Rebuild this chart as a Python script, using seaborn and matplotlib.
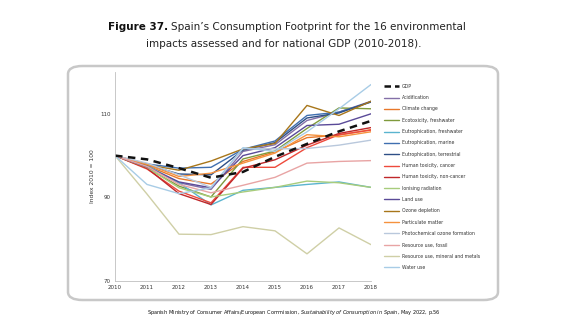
import matplotlib
matplotlib.use("Agg")
import matplotlib.pyplot as plt
from matplotlib.patches import FancyBboxPatch
from matplotlib.lines import Line2D
import seaborn as sns
import pandas as pd

sns.set_theme(style="white")
plt.rcParams['font.family'] = ['DejaVu Sans']

years = [2010, 2011, 2012, 2013, 2014, 2015, 2016, 2017, 2018]

series_names = [
    "GDP", "Acidification", "Climate change", "Ecotoxicity, freshwater",
    "Eutrophication, freshwater", "Eutrophication, marine", "Eutrophication, terrestrial",
    "Human toxicity, cancer", "Human toxicity, non-cancer", "Ionising radiation",
    "Land use", "Ozone depletion", "Particulate matter", "Photochemical ozone formation",
    "Resource use, fossil", "Resource use, mineral and metals", "Water use",
]

gdp = [100, 99.1, 97.0, 94.7, 96.1, 99.7, 102.8, 105.8, 108.3]
acidification = [100, 97.5, 93.5, 91.9, 101.0, 102.6, 108.4, 110.4, 113.0]
climate_change = [100, 97.6, 94.5, 93.2, 98.6, 100.9, 104.3, 104.9, 106.2]
ecotoxicity_freshwater = [100, 97.0, 92.7, 90.1, 99.2, 101.1, 106.5, 111.4, 111.2]
eutro_freshwater = [100, 97.6, 93.5, 88.2, 91.7, 92.4, 93.1, 93.7, 92.4]
eutro_marine = [100, 98.0, 97.0, 97.2, 101.5, 103.5, 109.6, 110.4, 112.8]
eutro_terrestrial = [100, 97.8, 95.6, 95.4, 101.3, 103.1, 109.0, 110.2, 112.9]
human_tox_cancer = [100, 96.8, 91.5, 88.7, 97.2, 97.2, 101.9, 105.0, 106.1]
human_tox_noncancer = [100, 97.0, 90.9, 88.3, 97.0, 99.0, 102.5, 105.3, 106.7]
ionising_radiation = [100, 97.2, 92.3, 90.1, 91.3, 92.4, 93.9, 93.5, 92.4]
land_use = [100, 97.3, 93.7, 92.3, 100.0, 101.9, 107.2, 107.5, 110.0]
ozone_depletion = [100, 97.8, 96.5, 98.7, 101.6, 102.9, 112.0, 109.6, 113.0]
particulate_matter = [100, 97.9, 95.0, 95.8, 98.2, 100.6, 105.0, 104.5, 105.7]
photochemical_ozone = [100, 98.2, 95.4, 92.4, 101.7, 101.6, 101.7, 102.5, 103.7]
resource_fossil = [100, 97.4, 93.1, 91.1, 92.9, 94.8, 98.2, 98.6, 98.8]
resource_mineral = [100, 90.8, 81.2, 81.1, 83.0, 82.0, 76.5, 82.7, 78.7]
water_use = [100, 93.1, 90.9, 92.3, 101.9, 101.0, 105.7, 111.2, 117.0]

all_values = [gdp, acidification, climate_change, ecotoxicity_freshwater, eutro_freshwater,
              eutro_marine, eutro_terrestrial, human_tox_cancer, human_tox_noncancer,
              ionising_radiation, land_use, ozone_depletion, particulate_matter,
              photochemical_ozone, resource_fossil, resource_mineral, water_use]

colors = ["#111111", "#8470a8", "#e8782a", "#7f9a3c", "#5ab4cf", "#3f6fb0", "#2e4f86",
          "#ee4a3c", "#c0282a", "#a8cc7c", "#5a4a98", "#a8761a", "#f5923e", "#b9c8dc",
          "#e8a4a4", "#cfcfa6", "#a8cce6"]

rows = []
for name, vals in zip(series_names, all_values):
    for y, v in zip(years, vals):
        rows.append({"year": y, "value": v, "series": name})
df = pd.DataFrame(rows)

palette = dict(zip(series_names, colors))

fig = plt.figure(figsize=(5.8, 3.26), dpi=100)
fig.patch.set_facecolor("white")

# rounded frame
box = FancyBboxPatch((68 / 580, 1 - 300 / 326), 430 / 580, 234 / 326,
                     boxstyle="round,pad=0,rounding_size=0.025",
                     transform=fig.transFigure, facecolor="white",
                     edgecolor="#c8c8c8", linewidth=1.8, zorder=-10)
fig.patches.append(box)

ax = fig.add_axes([115 / 580, 1 - 281 / 326, 256 / 580, 209 / 326])
ax.set_zorder(5)
ax.patch.set_alpha(0)

# non-GDP first, then GDP on top
others = df[df["series"] != "GDP"]
sns.lineplot(data=others, x="year", y="value", hue="series",
             hue_order=series_names[1:], palette=palette,
             linewidth=1.0, ax=ax, legend=False)
sns.lineplot(data=df[df["series"] == "GDP"], x="year", y="value",
             color=colors[0], linewidth=1.8, ax=ax, legend=False)
ax.lines[-1].set_dashes((3, 2.2))

ax.set_xlim(2010, 2018)
ax.set_ylim(70, 120)
ax.set_yticks([70, 90, 110])
ax.set_xticks(years)
ax.tick_params(axis="both", labelsize=4, length=0, pad=3, colors="#333333")
ax.set_xlabel("")
ax.set_ylabel("Index 2010 = 100", fontsize=4.3, color="#333333", labelpad=4)
for s in ["top", "right"]:
    ax.spines[s].set_visible(False)
for s in ["left", "bottom"]:
    ax.spines[s].set_color("#bfbfbf")
    ax.spines[s].set_linewidth(0.6)

handles = []
for n, c in zip(series_names, colors):
    if n == "GDP":
        h = Line2D([], [], color=c, lw=1.8)
        h.set_dashes((2.6, 1.6))
        handles.append(h)
    else:
        handles.append(Line2D([], [], color=c, lw=1.0))
fig.legend(handles, series_names, loc="upper left",
           bbox_to_anchor=(382 / 580, 1 - 82 / 326), frameon=False,
           fontsize=3.3, handlelength=3.4, handletextpad=0.6,
           labelspacing=1.38, borderaxespad=0, labelcolor="#333333")

# title
renderer = fig.canvas.get_renderer()
t1 = fig.text(108 / 580, 1 - 30.5 / 326, "Figure 37.", fontsize=7.5, fontweight="bold",
              ha="left", va="baseline", color="#111111")
bb = t1.get_window_extent(renderer=renderer)
fig.text((bb.x1 + 3) / 580, 1 - 30.5 / 326,
         "Spain\u2019s Consumption Footprint for the 16 environmental",
         fontsize=7.5, ha="left", va="baseline", color="#222222")
fig.text(284 / 580, 1 - 47 / 326, "impacts assessed and for national GDP (2010-2018).",
         fontsize=7.5, ha="center", va="baseline", color="#222222")

# footer
fig.text(294 / 580, 1 - 314 / 326,
         "Spanish Ministry of Consumer Affairs/European Commission, $\\it{Sustainability\\ of\\ Consumption\\ in\\ Spain}$, May 2022, p.56",
         fontsize=3.6, ha="center", va="baseline", color="#111111")

fig.savefig("out.png", dpi=100, facecolor="white")
